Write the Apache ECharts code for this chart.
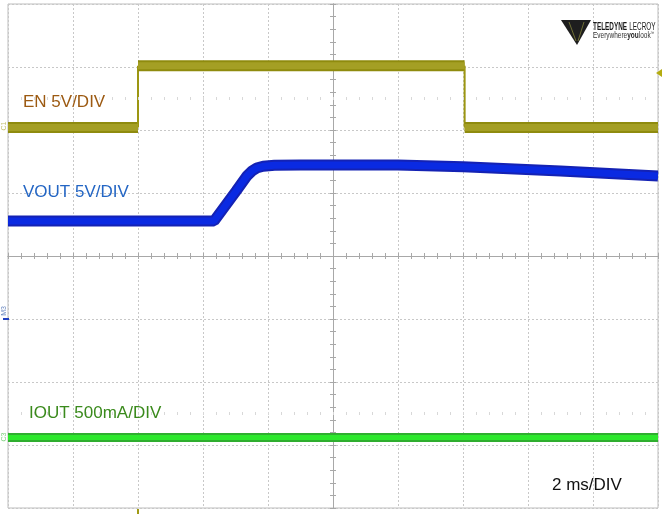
<!DOCTYPE html>
<html><head><meta charset="utf-8">
<script src="https://cdn.jsdelivr.net/npm/echarts@6/dist/echarts.min.js"></script>
<style>html,body{margin:0;padding:0;background:#fff}#c{width:663px;height:514px}</style>
</head><body><div id="c"></div><script>
// Time in ms (2 ms/DIV), trigger at t = 0
const EN_T = [-4, 0, 0, 10.05, 10.05, 16];
const EN_V = [0, 0, 4.9, 4.9, 0, 0];          // volts, 5 V/DIV
const VOUT_T = [-4, 2.34, 2.68, 3.02, 3.35, 3.5, 3.65, 3.85, 4.2, 5.0, 8.0, 10.0, 13.0, 16.0];
const VOUT_V = [0, 0, 1.19, 2.38, 3.57, 3.95, 4.2, 4.34, 4.42, 4.44, 4.44, 4.3, 3.97, 3.57]; // volts, 5 V/DIV
const IOUT_T = [-4, 16];
const IOUT_A = [0, 0];                           // amps, 0.5 A/DIV
const LABELS = ['EN 5V/DIV', 'VOUT 5V/DIV', 'IOUT 500mA/DIV', '2 ms/DIV'];

// channel scale (units per division) and offsets (divisions from screen centre)
const EN_SCALE = 5, EN_OFF = 2.04;
const VOUT_SCALE = 5, VOUT_OFF = 0.556;
const IOUT_SCALE = 0.5, IOUT_OFF = -2.88;

function toDiv(ts, vs, scale, off) { return ts.map((t, i) => [t, vs[i] / scale + off]); }

const series = [];
function band(data, outer, inner, wOut, wIn, z) {
  series.push({type: 'line', data, symbol: 'none', silent: true, z: z,
    lineStyle: {color: outer, width: wOut}});
  series.push({type: 'line', data, symbol: 'none', silent: true, z: z + 0.1,
    lineStyle: {color: inner, width: wIn}});
}

// EN: thick horizontal segments, thin vertical edges
const enPts = toDiv(EN_T, EN_V, EN_SCALE, EN_OFF);
for (let i = 0; i < enPts.length - 1; i++) {
  const seg = [enPts[i], enPts[i + 1]];
  if (enPts[i][0] === enPts[i + 1][0]) {
    series.push({type: 'line', data: seg, symbol: 'none', silent: true, z: 3,
      lineStyle: {color: '#9c9612', width: 2}});
  } else {
    band(seg, '#8f8b0e', '#a49f24', 11, 7, 3);
  }
}
band(toDiv(VOUT_T, VOUT_V, VOUT_SCALE, VOUT_OFF), '#1422b4', '#0a2ae2', 11, 7, 4);
band(toDiv(IOUT_T, IOUT_A, IOUT_SCALE, IOUT_OFF), '#2fae2f', '#2ce82c', 9, 5, 5);

// faint dotted rows at +-2.5 div
series.push({type: 'line', data: [], silent: true,
  markLine: {silent: true, symbol: 'none', label: {show: false},
    lineStyle: {type: [1, 12], width: 3, color: '#d8d8d8'},
    data: [{yAxis: 2.5}, {yAxis: -2.5}]}});

const tickCol = '#a8a8a8';
const grid = '#c8c8c8';
const FONT = '17px "Liberation Sans", Arial, sans-serif';
const option = {
  animation: false,
  backgroundColor: '#ffffff',
  grid: {left: 8, right: 5, top: 4, bottom: 6, show: true, borderColor: '#bdbdbd', borderWidth: 1},
  xAxis: [
    {type: 'value', min: -4, max: 16, interval: 2, position: 'bottom',
      axisLine: {show: true, onZero: true, onZeroAxisIndex: 0, lineStyle: {color: tickCol}},
      axisTick: {show: true, inside: true, length: 3, lineStyle: {color: tickCol}},
      minorTick: {show: true, splitNumber: 5, length: 3, lineStyle: {color: tickCol}},
      axisLabel: {show: false},
      splitLine: {show: true, lineStyle: {color: grid, type: [2, 2]}}},
    {type: 'value', min: -10, max: 10, interval: 2, position: 'top',
      axisLine: {show: false}, axisTick: {show: false}, axisLabel: {show: false}, splitLine: {show: false}},
    {type: 'value', min: -4, max: 16, interval: 2, position: 'bottom',
      axisLine: {show: true, onZero: true, onZeroAxisIndex: 0, lineStyle: {color: tickCol}},
      axisTick: {show: true, inside: false, length: 3, lineStyle: {color: tickCol}},
      minorTick: {show: true, splitNumber: 5, length: 3, lineStyle: {color: tickCol}},
      axisLabel: {show: false}, splitLine: {show: false}}
  ],
  yAxis: [
    {type: 'value', min: -4, max: 4, interval: 1, position: 'left',
      axisLine: {show: true, onZero: true, onZeroAxisIndex: 1, lineStyle: {color: tickCol}},
      axisTick: {show: true, inside: true, length: 3, lineStyle: {color: tickCol}},
      minorTick: {show: true, splitNumber: 5, length: 3, lineStyle: {color: tickCol}},
      axisLabel: {show: false},
      splitLine: {show: true, lineStyle: {color: grid, type: [2, 2]}}},
    {type: 'value', min: -4, max: 4, interval: 1, position: 'left',
      axisLine: {show: true, onZero: true, onZeroAxisIndex: 1, lineStyle: {color: tickCol}},
      axisTick: {show: true, inside: false, length: 3, lineStyle: {color: tickCol}},
      minorTick: {show: true, splitNumber: 5, length: 3, lineStyle: {color: tickCol}},
      axisLabel: {show: false}, splitLine: {show: false}}
  ],
  series: series,
  graphic: [
    {type: 'text', left: 23, top: 94, z: 10, style: {text: LABELS[0], fill: '#9c5a12', font: FONT}},
    {type: 'text', left: 23, top: 184, z: 10, style: {text: LABELS[1], fill: '#2466c4', font: FONT}},
    {type: 'text', left: 29, top: 405, z: 10, style: {text: LABELS[2], fill: '#3a8a1c', font: FONT}},
    {type: 'text', left: 552, top: 477, z: 10, style: {text: LABELS[3], fill: '#111111', font: FONT}},
    // logo
    {type: 'polygon', z: 10, shape: {points: [[561, 20], [591, 20], [577, 45]]}, style: {fill: '#1e1e1e'}},
    {type: 'polyline', z: 11, shape: {points: [[569, 22], [576, 41]]}, style: {stroke: '#6e6e34', lineWidth: 1}},
    {type: 'polyline', z: 11, shape: {points: [[584, 22], [578, 41]]}, style: {stroke: '#6e6e34', lineWidth: 1}},
    {type: 'text', x: 593, y: 21, scaleX: 0.64, z: 10, style: {x: 0, y: 0, verticalAlign: 'top', text: '{b|TELEDYNE} {r|LECROY}', rich: {
      b: {font: 'bold 10px "Liberation Sans", Arial, sans-serif', fill: '#1a1a1a'},
      r: {font: '10px "Liberation Sans", Arial, sans-serif', fill: '#1a1a1a'}}}},
    {type: 'text', x: 593, y: 31, scaleX: 0.72, z: 10, style: {x: 0, y: 0, verticalAlign: 'top', text: '{r|Everywhere}{b|you}{r|look}{s|™}', rich: {
      b: {font: 'bold 9px "Liberation Sans", Arial, sans-serif', fill: '#222'},
      r: {font: '9px "Liberation Sans", Arial, sans-serif', fill: '#333'},
      s: {font: '5px "Liberation Sans", sans-serif', fill: '#333', verticalAlign: 'top'}}}},
    // markers
    {type: 'polygon', z: 10, shape: {points: [[662, 69], [662, 77], [656, 73]]}, style: {fill: '#b4ac10'}},
    {type: 'rect', z: 10, shape: {x: 137, y: 509, width: 2, height: 5}, style: {fill: '#a09a14'}},
    {type: 'text', z: 10, x: 4, y: 126, rotation: Math.PI / 2, style: {text: 'C1', fill: '#c4c070', font: '7px sans-serif', align: 'center', verticalAlign: 'middle'}},
    {type: 'text', z: 10, x: 4, y: 311, rotation: Math.PI / 2, style: {text: 'M3', fill: '#6a88c0', font: '7px sans-serif', align: 'center', verticalAlign: 'middle'}},
    {type: 'rect', z: 10, shape: {x: 3, y: 318, width: 6, height: 2}, style: {fill: '#2040c0'}},
    {type: 'text', z: 10, x: 4, y: 437, rotation: Math.PI / 2, style: {text: 'C3', fill: '#80d080', font: '7px sans-serif', align: 'center', verticalAlign: 'middle'}}
  ]
};
const chart = echarts.init(document.getElementById('c'), null, {renderer: 'canvas'});
chart.setOption(option);
</script></body></html>
